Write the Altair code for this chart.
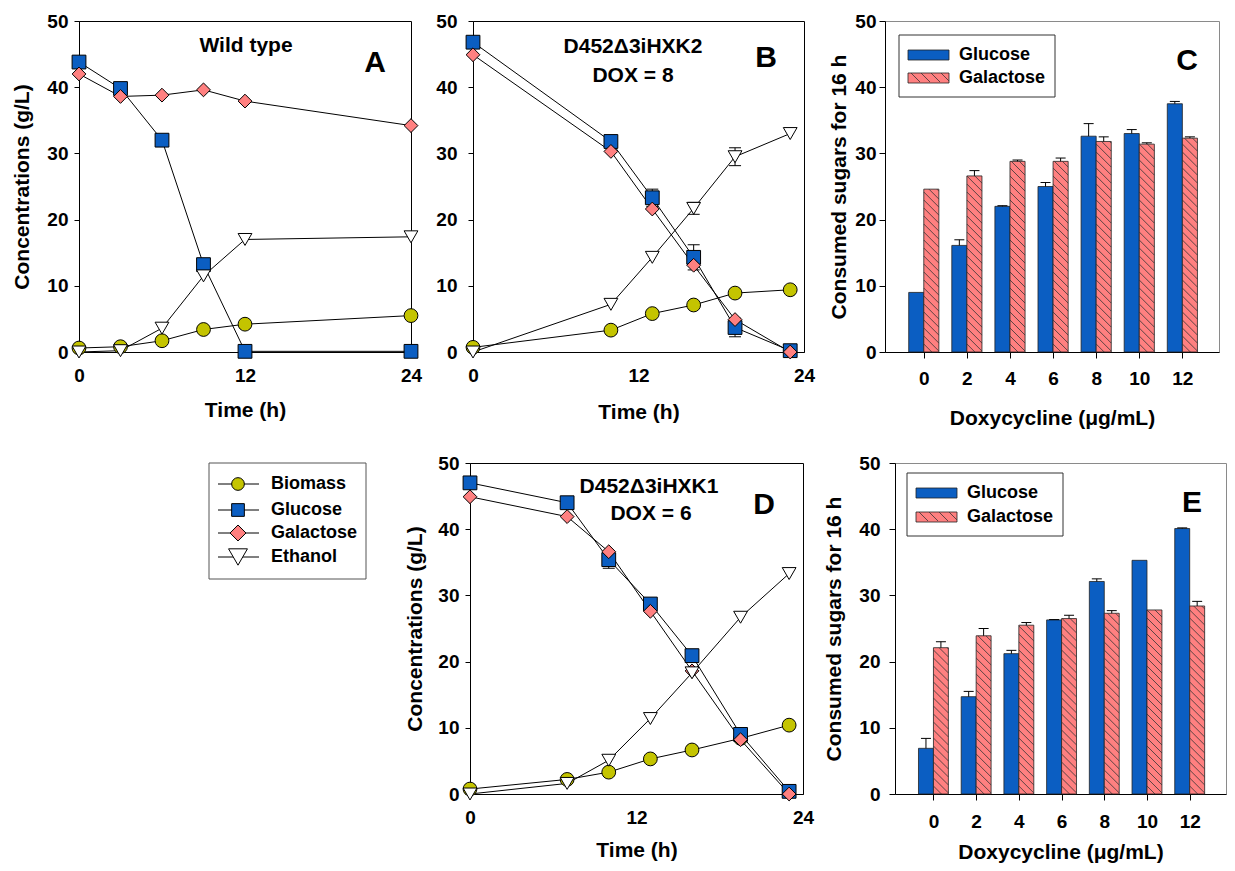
import altair as alt
import numpy as np
import pandas as pd

FONT = "Liberation Sans"

# ---------------- data ----------------
series = ["Biomass", "Glucose", "Galactose", "Ethanol"]
series_fill = ["#C4C400", "#0B5EC2", "#FF8080", "#FFFFFF"]
series_shape = ["circle", "square", "diamond", "triangle-down"]
series_size = [190, 190, 300, 420]

a_time = [0, 3, 6, 9, 12, 24]
a_biomass = [0.6, 0.8, 1.7, 3.4, 4.2, 5.5]
a_glucose = [43.8, 39.8, 32.0, 13.2, 0.1, 0.1]
a_galactose = [42.0, 38.6, 38.8, 39.6, 37.9, 34.2]
a_ethanol = [0.0, 0.2, 3.6, 11.5, 17.0, 17.4]

b_time = [0, 10, 13, 16, 19, 23]
b_biomass = [0.7, 3.3, 5.8, 7.1, 8.9, 9.4]
b_glucose = [46.8, 31.8, 23.3, 14.3, 3.7, 0.2]
b_galactose = [44.9, 30.3, 21.6, 13.1, 4.9, 0.0]
b_ethanol = [0.0, 7.2, 14.3, 21.7, 29.5, 33.0]
b_glucose_err = [0, 0, 1.3, 1.9, 1.4, 0]
b_ethanol_err = [0, 0, 0, 0.9, 1.35, 0]

d_time = [0, 7, 10, 13, 16, 19.5, 23]
d_biomass = [0.75, 2.2, 3.3, 5.3, 6.65, 8.4, 10.4]
d_glucose = [47.0, 44.0, 35.4, 28.7, 20.9, 9.0, 0.4]
d_galactose = [44.9, 41.9, 36.6, 27.6, 18.6, 8.2, 0.0]
d_ethanol = [0.0, 1.6, 5.1, 11.4, 18.3, 26.7, 33.3]
d_glucose_err = [0, 0, 1.3, 0, 0, 0, 0]

doxy = [0, 2, 4, 6, 8, 10, 12]
sugars = ["Glucose", "Galactose"]
sugar_fill = ["#0B5EC2", "#FF8080"]
c_glucose = [9.0, 16.1, 22.0, 25.0, 32.6, 33.0, 37.5]
c_glucose_err = [0.0, 0.85, 0.1, 0.6, 1.9, 0.6, 0.35]
c_galactose = [24.6, 26.6, 28.8, 28.8, 31.8, 31.4, 32.3]
c_galactose_err = [0.0, 0.8, 0.2, 0.5, 0.7, 0.2, 0.2]
e_glucose = [6.9, 14.7, 21.2, 26.3, 32.1, 35.3, 40.1]
e_glucose_err = [1.5, 0.8, 0.5, 0.05, 0.4, 0.0, 0.1]
e_galactose = [22.1, 23.9, 25.5, 26.5, 27.3, 27.8, 28.4]
e_galactose_err = [0.9, 1.1, 0.4, 0.5, 0.4, 0.0, 0.7]

Y_TICKS = [0, 10, 20, 30, 40, 50]
T_TICKS = [0, 12, 24]
XMIN, XMAX = -1.8, 13.7
BW = 0.7


def note(txt, x, y, size=21, align="center"):
    return alt.Chart(pd.DataFrame({"t": [txt]})).mark_text(
        font=FONT, fontSize=size, fontWeight="bold", color="black",
        align=align, baseline="middle").encode(
        text="t:N", x=alt.value(x), y=alt.value(y))


def line_panel(time, cols, errs, w, h, y_title, xkw, ykw, notes):
    rows = []
    for name, vals in zip(series, cols):
        for t, v in zip(time, vals):
            rows.append({"time": t, "value": v, "series": name})
    df = pd.DataFrame(rows)
    xsc = alt.Scale(domain=[0, 24], nice=False, zero=False)
    ysc = alt.Scale(domain=[0, 50], nice=False)
    xax = alt.Axis(values=T_TICKS, ticks=False, labelFlush=False, **xkw)
    yax = alt.Axis(values=Y_TICKS, tickSize=5, **ykw)

    def X(f):
        return alt.X(f, scale=xsc, axis=xax, title="Time (h)")

    def Y(f):
        return alt.Y(f, scale=ysc, axis=yax, title=y_title)

    layers = [alt.Chart(df).mark_line(color="black", strokeWidth=1).encode(
        x=X("time:Q"), y=Y("value:Q"), detail="series:N")]
    if errs:
        edf = pd.DataFrame(errs, columns=["series", "time", "value", "err"])
        edf["lo"] = edf["value"] - edf["err"]
        edf["hi"] = edf["value"] + edf["err"]
        layers.append(alt.Chart(edf).mark_rule(color="black", strokeWidth=1).encode(
            x=X("time:Q"), y=Y("lo:Q"), y2="hi:Q"))
        caps = edf.melt(id_vars=["time"], value_vars=["lo", "hi"], value_name="cap")
        layers.append(alt.Chart(caps).mark_tick(
            orient="horizontal", size=12, thickness=1, color="black", opacity=1).encode(
            x=X("time:Q"), y=Y("cap:Q")))
    layers.append(alt.Chart(df).mark_point(
        filled=True, opacity=1, stroke="black", strokeWidth=1).encode(
        x=X("time:Q"), y=Y("value:Q"),
        shape=alt.Shape("series:N", scale=alt.Scale(domain=series, range=series_shape), legend=None),
        fill=alt.Fill("series:N", scale=alt.Scale(domain=series, range=series_fill), legend=None),
        size=alt.Size("series:N", scale=alt.Scale(domain=series, range=series_size), legend=None)))
    for n in notes:
        layers.append(note(*n))
    return alt.layer(*layers).properties(
        width=w, height=h, view=alt.ViewBackground(stroke="black", strokeWidth=1))


def bar_panel(gl, gl_err, ga, ga_err, w, h, xkw, ykw, notes, leg):
    rows = []
    for d, v, e in zip(doxy, gl, gl_err):
        rows.append({"sugar": "Glucose", "x0": d - BW, "x1": d, "value": v, "err": e})
    for d, v, e in zip(doxy, ga, ga_err):
        rows.append({"sugar": "Galactose", "x0": d, "x1": d + BW, "value": v, "err": e})
    df = pd.DataFrame(rows)
    df["xc"] = (df["x0"] + df["x1"]) / 2
    df["top"] = df["value"] + df["err"]
    df["base"] = 0.0
    xsc = alt.Scale(domain=[XMIN, XMAX], nice=False, zero=False)
    ysc = alt.Scale(domain=[0, 50], nice=False)
    xax = alt.Axis(values=doxy, tickSize=6, labelFlush=False, **xkw)
    yax = alt.Axis(values=Y_TICKS, tickSize=6, **ykw)

    def X(f):
        return alt.X(f, scale=xsc, axis=xax, title="Doxycycline (\u03bcg/mL)")

    def Y(f):
        return alt.Y(f, scale=ysc, axis=yax, title="Consumed sugars for 16 h")

    layers = [alt.Chart(df).mark_rect(stroke="#222222", strokeWidth=0.8).encode(
        x=X("x0:Q"), x2="x1:Q", y=Y("value:Q"), y2="base:Q",
        color=alt.Color("sugar:N", scale=alt.Scale(domain=sugars, range=sugar_fill), legend=None))]

    # diagonal hatch of the galactose bars (derived from the bar values)
    ppx = w / (XMAX - XMIN)
    ppy = h / 50.0
    bwpx = BW * ppx
    hrows = []
    for d, v in zip(doxy, ga):
        H = v * ppy
        for c in np.arange(8.0, H + bwpx, 8.0):
            t0, t1 = max(0.0, c - H), min(bwpx, c)
            if t1 - t0 > 0.5:
                hrows.append({"hx1": d + t0 / ppx, "hy1": (c - t0) / ppy,
                              "hx2": d + t1 / ppx, "hy2": (c - t1) / ppy})
    hdf = pd.DataFrame(hrows)
    layers.append(alt.Chart(hdf).mark_rule(color="#333333", strokeWidth=0.8).encode(
        x=X("hx1:Q"), y=Y("hy1:Q"), x2="hx2:Q", y2="hy2:Q"))

    edf = df[df["err"] > 0]
    layers.append(alt.Chart(edf).mark_rule(color="black", strokeWidth=1).encode(
        x=X("xc:Q"), y=Y("value:Q"), y2="top:Q"))
    layers.append(alt.Chart(edf).mark_tick(
        orient="horizontal", size=10, thickness=1, color="black", opacity=1).encode(
        x=X("xc:Q"), y=Y("top:Q")))

    # inner legend
    bx0, bx1, by0, by1, sx0, sx1, tx, ys = leg
    box = pd.DataFrame({"k": [0]})
    layers.append(alt.Chart(box).mark_rect(fill="white", stroke="#333333", strokeWidth=1).encode(
        x=alt.value(bx0), x2=alt.value(bx1), y=alt.value(by0), y2=alt.value(by1)))
    for name, col, yc in zip(sugars, sugar_fill, ys):
        layers.append(alt.Chart(box).mark_rect(fill=col, stroke="#222222", strokeWidth=0.8).encode(
            x=alt.value(sx0), x2=alt.value(sx1), y=alt.value(yc - 5), y2=alt.value(yc + 5)))
        layers.append(note(name, tx, yc, 18, "left"))
    yg = ys[1]
    for k in range(4):
        xa = sx0 + 3 + 10 * k
        xb = min(xa + 9, sx1)
        layers.append(alt.Chart(box).mark_rule(color="#333333", strokeWidth=0.8).encode(
            x=alt.value(xa), x2=alt.value(xb), y=alt.value(yg - 5), y2=alt.value(yg - 5 + (xb - xa))))
    for n in notes:
        layers.append(note(*n))
    return alt.layer(*layers).properties(
        width=w, height=h, view=alt.ViewBackground(stroke="#8a8a8a", strokeWidth=1))


# ---------------- panels ----------------
panel_a = line_panel(a_time, [a_biomass, a_glucose, a_galactose, a_ethanol], [],
                     332, 331, "Concentrations (g/L)",
                     dict(labelPadding=14, titlePadding=14), dict(labelPadding=6, titlePadding=14),
                     [("Wild type", 167, 25, 21), ("A", 296, 42, 30)])

b_errs = [("Glucose", t, v, e) for t, v, e in zip(b_time, b_glucose, b_glucose_err) if e > 0] + \
         [("Ethanol", t, v, e) for t, v, e in zip(b_time, b_ethanol, b_ethanol_err) if e > 0]
panel_b = line_panel(b_time, [b_biomass, b_glucose, b_galactose, b_ethanol], b_errs,
                     331, 331, None,
                     dict(labelPadding=14, titlePadding=16), dict(labelPadding=11),
                     [("D452\u03943iHXK2", 160, 26, 21), ("DOX = 8", 160, 55, 21), ("B", 293, 37, 30)])

panel_c = bar_panel(c_glucose, c_glucose_err, c_galactose, c_galactose_err, 334, 331,
                    dict(labelPadding=11, titlePadding=19), dict(labelPadding=3, titlePadding=5),
                    [("C", 302, 40, 30)],
                    (14, 170, 14, 76, 23, 64, 74, [34, 57]))

d_errs = [("Glucose", t, v, e) for t, v, e in zip(d_time, d_glucose, d_glucose_err) if e > 0]
panel_d = line_panel(d_time, [d_biomass, d_glucose, d_galactose, d_ethanol], d_errs,
                     333, 331, "Concentrations (g/L)",
                     dict(labelPadding=14, titlePadding=12), dict(labelPadding=6, titlePadding=12),
                     [("D452\u03943iHXK1", 179, 24, 21), ("DOX = 6", 181, 51, 21), ("D", 294, 42, 30)])

panel_e = bar_panel(e_glucose, e_glucose_err, e_galactose, e_galactose_err, 331, 331,
                    dict(labelPadding=12, titlePadding=10), dict(labelPadding=9, titlePadding=14),
                    [("E", 297, 40, 30)],
                    (12, 168, 10, 73, 21, 62, 72, [30, 54]))

# ---------------- series legend (lower left) ----------------
LX0, LY0 = 130, 0
leg_layers = []
one = pd.DataFrame({"k": [0]})
leg_layers.append(alt.Chart(one).mark_rect(fill="white", stroke="#555555", strokeWidth=1).encode(
    x=alt.value(LX0), x2=alt.value(LX0 + 157), y=alt.value(LY0), y2=alt.value(LY0 + 116)))
for i, name in enumerate(series):
    yc = LY0 + [21, 47, 70, 94][i]
    leg_layers.append(alt.Chart(one).mark_rule(color="black", strokeWidth=1).encode(
        x=alt.value(LX0 + 9), x2=alt.value(LX0 + 50), y=alt.value(yc)))
    leg_layers.append(alt.Chart(one).mark_point(
        filled=True, opacity=1, stroke="black", strokeWidth=1, shape=series_shape[i],
        size=series_size[i] * 0.85, fill=series_fill[i]).encode(
        x=alt.value(LX0 + 29), y=alt.value(yc)))
    leg_layers.append(note(name, LX0 + 62, yc, 18, "left"))
legend_panel = alt.layer(*leg_layers).properties(width=317, height=331)

row1 = alt.hconcat(panel_a, panel_b, panel_c, spacing=12)
row2 = alt.hconcat(legend_panel, panel_d, panel_e, spacing=8)

chart = alt.vconcat(row1, row2, spacing=24).properties(
    padding={"left": 3, "top": 3, "right": 0, "bottom": 0}
).resolve_scale(color="independent", fill="independent").configure_view(stroke=None).configure_axis(
    labelFont=FONT, titleFont=FONT, labelFontSize=19, titleFontSize=21,
    labelFontWeight="bold", titleFontWeight="bold", labelColor="black", titleColor="black",
    domainColor="black", tickColor="black", grid=False, domainWidth=1
).configure_text(font=FONT)

chart.save("out.html", embed_options={"renderer": "svg", "actions": False})
